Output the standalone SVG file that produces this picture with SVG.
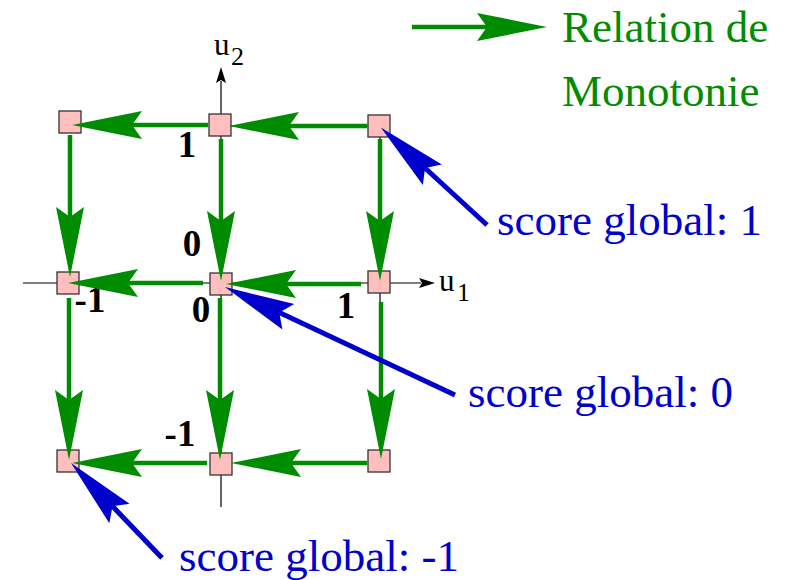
<svg xmlns="http://www.w3.org/2000/svg" width="789" height="580" viewBox="0 0 789 580">
<style>
.node{fill:#ffbfbf;stroke:#333;stroke-width:1.3}
.axis{stroke:#000;stroke-width:1.2;fill:none}
.g{stroke:#008c00;stroke-width:4.5;fill:none;marker-end:url(#hg)}
.b{stroke:#0000cc;stroke-width:5;fill:none;marker-end:url(#hb)}
.lbl{font-family:"Liberation Serif","Times New Roman",serif;font-weight:bold;font-size:37px;fill:#000;text-anchor:middle}
.ax{font-family:"Liberation Serif","Times New Roman",serif;fill:#000}
.bt{font-family:"Liberation Serif","Times New Roman",serif;font-size:45px;fill:#0000cc}
.gt{font-family:"Liberation Serif","Times New Roman",serif;font-size:45px;fill:#008c00}
</style>
<defs>
<marker id="hg" markerUnits="userSpaceOnUse" viewBox="0 -15 70 30" markerWidth="70" markerHeight="30" refX="10" refY="0" orient="auto" overflow="visible">
<path d="M70,0 L0,-14 L10,0 L0,14 Z" fill="#008c00"/>
</marker>
<marker id="hb" markerUnits="userSpaceOnUse" viewBox="0 -15 70 30" markerWidth="70" markerHeight="30" refX="10" refY="0" orient="auto" overflow="visible">
<path d="M70,0 L0,-14 L10,0 L0,14 Z" fill="#0000cc"/>
</marker>
<marker id="ha" markerUnits="userSpaceOnUse" viewBox="0 -5 18 10" markerWidth="18" markerHeight="10" refX="4" refY="0" orient="auto" overflow="visible">
<path d="M18,0 L2,-5 L5,0 L2,5 Z" fill="#000"/>
</marker>
</defs>
<g id="axes">
<line class="axis" x1="23" y1="283" x2="421" y2="283" marker-end="url(#ha)"/>
<line class="axis" x1="221" y1="507" x2="221" y2="81" marker-end="url(#ha)"/>
<line class="axis" x1="220" y1="126" x2="380" y2="126"/>
<line class="axis" x1="380" y1="126" x2="380" y2="462"/>
<text class="ax" x="214" y="55" font-size="31">u</text>
<text class="ax" x="231" y="65" font-size="26">2</text>
<text class="ax" x="439" y="291" font-size="31">u</text>
<text class="ax" x="457" y="301" font-size="26">1</text>
</g>
<g id="nodes">
<g id="n-tl"><rect class="node" x="59" y="111" width="22" height="22"/></g>
<g id="n-tm"><rect class="node" x="209" y="114" width="22" height="22"/></g>
<g id="n-tr"><rect class="node" x="368" y="115" width="22" height="22"/></g>
<g id="n-ml"><rect class="node" x="57" y="272" width="22" height="22"/></g>
<g id="n-mm"><rect class="node" x="210" y="273" width="22" height="22"/></g>
<g id="n-mr"><rect class="node" x="368" y="271" width="22" height="22"/></g>
<g id="n-bl"><rect class="node" x="57" y="450" width="22" height="22"/></g>
<g id="n-bm"><rect class="node" x="210" y="453" width="22" height="22"/></g>
<g id="n-br"><rect class="node" x="368" y="450" width="22" height="22"/></g>
</g>
<g id="labels">
<text class="lbl" x="187" y="157">1</text>
<text class="lbl" x="192" y="256">0</text>
<text class="lbl" x="90" y="312">-1</text>
<text class="lbl" x="201" y="322">0</text>
<text class="lbl" x="346" y="318">1</text>
<text class="lbl" x="180" y="446">-1</text>
</g>
<g id="connectors">
<line class="g" x1="208" y1="125" x2="132" y2="125"/>
<line class="g" x1="367" y1="126" x2="289" y2="126"/>
<line class="g" x1="203" y1="283" x2="128" y2="283"/>
<line class="g" x1="361" y1="284" x2="286" y2="284"/>
<line class="g" x1="207" y1="463" x2="132" y2="463"/>
<line class="g" x1="367" y1="463" x2="291" y2="463"/>
<line class="g" x1="70" y1="135" x2="70" y2="217"/>
<line class="g" x1="221" y1="139" x2="221" y2="221"/>
<line class="g" x1="380" y1="139" x2="380" y2="221"/>
<line class="g" x1="69" y1="298" x2="69" y2="400"/>
<line class="g" x1="220" y1="298" x2="220" y2="400"/>
<line class="g" x1="381" y1="302" x2="381" y2="399"/>
<line class="b" x1="487" y1="225" x2="425" y2="168"/>
<line class="b" x1="455" y1="395" x2="279.3" y2="312.5"/>
<line class="b" x1="162" y1="558" x2="112.5" y2="506.3"/>
</g>
<g id="legend">
<line class="g" x1="412" y1="27" x2="487" y2="27"/>
<text class="gt" x="562" y="42">Relation de</text>
<text class="gt" x="562" y="106">Monotonie</text>
</g>
<g id="scores">
<text class="bt" x="497" y="235">score global: 1</text>
<text class="bt" x="468" y="407">score global: 0</text>
<text class="bt" x="179" y="571">score global: -1</text>
</g>
</svg>
